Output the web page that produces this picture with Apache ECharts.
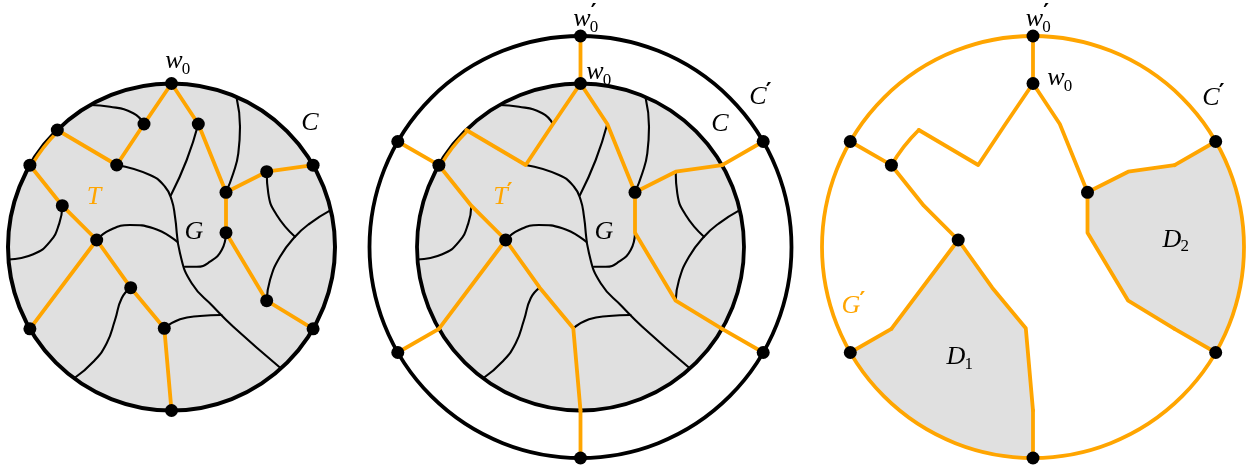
<!DOCTYPE html>
<html><head><meta charset="utf-8">
<script src="https://cdn.jsdelivr.net/npm/echarts@6/dist/echarts.min.js"></script>
<style>html,body{margin:0;padding:0;background:#fff}#chart{width:1254px;height:466px}</style>
</head><body><div id="chart"></div>
<script>
// ================= DATA (diagram units, origin = centre of disk, y downwards) =================
const innerRadius = 163.5;   // circle C
const outerRadius = 211;     // circle C'

// vertices of the spanning tree T (inside / on C)
const nodeIds = ['w0','a','b','c','d','e','f','g','h','i','j','k','l','m','n','o','p','q'];
const nodeX   = [0,-27.5,26.8,-114.2,-141.6,-54.8,54.5,95.2,141.6,-109.2,-74.8,54.5,-40.8,95.2,-141.6,-7.2,141.6,0];
const nodeY   = [-163.5,-123,-123,-117,-81.8,-82,-54.7,-75.3,-81.8,-41.3,-7,-14.3,40.7,53.7,81.8,81.3,81.8,163.5];

// vertices on the outer circle C'
const outerIds = ['W0','U1','U2','U3','U4','U5'];
const outerX   = [0,-182.7,182.7,-182.7,182.7,0];
const outerY   = [-211,-105.5,-105.5,105.5,105.5,211];

// tree T : straight paths, plus an arc of C from d to c
const treeT = [['w0','a','e','c'],['w0','b','f','g','h'],['f','k','m','p'],['d','i','j','l','o','q'],['j','n']];
const treeTArc = ['d','c'];
// extra edges of T' reaching C'
const treeExtra = [['W0','w0'],['h','U2'],['p','U4'],['U1','d'],['q','U5'],['n','U3']];

// dots drawn in the later panels
const dotsLater = ['W0','U1','U2','U3','U4','U5','w0','d','f','j'];

// faces D1, D2 of G' (tree path + arc of C')
const faceD1Path = ['U3','n','j','l','o','q','U5'];
const faceD1Arc  = ['U5','U3'];
const faceD2Path = ['U4','p','m','k','f','g','h','U2'];
const faceD2Arc  = ['U2','U4'];

// black curves of the graph G
const curveG1  = [[-81.5,-142],[-61.5,-140.3],[-38.2,-133.7],[-27.5,-123]];
const curveG2  = [[-54.8,-82],[-21.5,-72],[-6.5,-60.3],[0.2,-47],[3.5,-30.3],[8.5,6.3],[20.2,36.3],[41.8,59.7],[61.8,79.7],[109,121]];
const curveG3  = [[-0.5,-52],[15.2,-87],[26.8,-123]];
const curveG4  = [[54.5,-54.7],[61.8,-73.7],[66.8,-93.7],[68.5,-120.3],[65.2,-148.7]];
const curveG5  = [[95.2,-75.3],[96.8,-53.7],[105.2,-32],[123.5,-10.3]];
const curveG6  = [[159.2,-36.9],[138.5,-23.7],[123.5,-10.3],[108.5,9.7],[98.5,33],[95.2,53.7]];
const curveG7  = [[-109.2,-41.3],[-112.2,-23.7],[-121.5,-5.3],[-138.2,7.3],[-163,12.5]];
const curveG8  = [[-74.8,-7],[-61.5,-17],[-41.5,-22],[-18.2,-18.7],[6,-5]];
const curveG9  = [[54.5,-14.3],[50.2,3],[38.5,14.7],[25.2,19.7],[13.5,19.7]];
const curveG10 = [[-40.8,40.7],[-49.8,51.3],[-56.5,73],[-64.8,96.3],[-78.2,114.7],[-97,131]];
const curveG11 = [[-7.2,81.3],[8.5,72.3],[28.5,69],[50,68]];
const curvesG = [curveG1,curveG2,curveG3,curveG4,curveG5,curveG6,curveG7,curveG8,curveG9,curveG10,curveG11];

// text labels
const labelPanel  = [0,0,0,0, 1,1,1,1,1,1, 2,2,2,2,2,2];
const labelMain   = ['w','C','T','G', 'w','w','C','C','T','G', 'w','w','C','G','D','D'];
const labelSub    = ['0','','','', '0','0','','','','', '0','0','','','1','2'];
const labelPrime  = [0,0,0,0, 1,0,1,0,1,0, 1,0,1,1,0,0];
const labelOrange = [0,0,1,0, 0,0,0,0,1,0, 0,0,0,1,0,0];
const labelX      = [2.5,138.5,-77.5,22.5, 1.5,14.5,177.5,139.5,-80,23.5, 1.5,23,178,-182,-77,139];
const labelY      = [-186,-123.7,-49.5,-14.5, -228,-175,-149.5,-123,-49.5,-14.5, -228,-169,-149,59,110.5,-7];

// ================= LAYOUT / STYLE =================
const panelCentres = [[171.5,247],[580.5,247],[1033,247]];
const ORANGE = '#FFA500', GREY = '#e0e0e0', BLACK = '#000';
const FAM = '"Liberation Serif","DejaVu Serif",serif';

function pt(id){
  let i = nodeIds.indexOf(id);
  if (i >= 0) return [nodeX[i], nodeY[i]];
  i = outerIds.indexOf(id);
  return [outerX[i], outerY[i]];
}
function ang(id){ const p = pt(id); return Math.atan2(p[1], p[0]); }
function arcSamples(r, a0, a1, n){
  const out = [];
  for (let s = 0; s <= n; s++){ const t = a0 + (a1 - a0) * s / n; out.push([r*Math.cos(t), r*Math.sin(t)]); }
  return out;
}

const grids = [], xAxes = [], yAxes = [];
panelCentres.forEach(([cx, cy]) => {
  const L = Math.max(0, cx - 240), R = Math.min(1254, cx + 240);
  grids.push({left: L, width: R - L, top: 0, height: 466, containLabel: false});
  xAxes.push({type:'value', gridIndex: grids.length-1, min: L - cx, max: R - cx, show: false});
  yAxes.push({type:'value', gridIndex: grids.length-1, min: -cy, max: 466 - cy, inverse: true, show: false});
});

const series = [];
function circleSeries(panel, r, fill, stroke, width, z){
  series.push({type:'custom', xAxisIndex:panel, yAxisIndex:panel, z, silent:true, data:[[0,0]],
    renderItem(params, api){
      const c = api.coord([0,0]); const rr = api.size([r,0])[0];
      return {type:'circle', shape:{cx:c[0], cy:c[1], r:rr},
        style:{fill: fill || 'none', stroke: stroke || 'none', lineWidth: width || 0}};
    }});
}
function arcSeries(panel, r, ids, stroke, width, z){
  series.push({type:'custom', xAxisIndex:panel, yAxisIndex:panel, z, silent:true, data:[[0,0]],
    renderItem(params, api){
      const c = api.coord([0,0]); const rr = api.size([r,0])[0];
      return {type:'arc', shape:{cx:c[0], cy:c[1], r:rr, startAngle:ang(ids[0]), endAngle:ang(ids[1]), clockwise:true},
        style:{fill:'none', stroke, lineWidth: width, lineCap:'round'}};
    }});
}
function polySeries(panel, pts, fill, z){
  series.push({type:'custom', xAxisIndex:panel, yAxisIndex:panel, z, silent:true, data:[[0,0]],
    renderItem(params, api){
      return {type:'polygon', shape:{points: pts.map(p => api.coord(p))}, style:{fill, stroke:'none'}};
    }});
}
function lineSeries(panel, pts, color, width, smooth, z){
  series.push({type:'line', xAxisIndex:panel, yAxisIndex:panel, z, silent:true, data: pts,
    symbol:'none', smooth: smooth, clip:false,
    lineStyle:{color, width, cap:'round', join:'round', opacity:1}});
}
function dotSeries(panel, ids, z){
  series.push({type:'scatter', xAxisIndex:panel, yAxisIndex:panel, z, silent:true,
    data: ids.map(pt), symbol:'circle', symbolSize: 13, itemStyle:{color: BLACK, opacity: 1}});
}

const measureCtx = document.createElement('canvas').getContext('2d');
function textWidth(t, font){ measureCtx.font = font; return measureCtx.measureText(t).width; }

function labelSeries(panel, z){
  const idx = [];
  labelPanel.forEach((p, i) => { if (p === panel) idx.push(i); });
  series.push({type:'custom', xAxisIndex:panel, yAxisIndex:panel, z, silent:true,
    data: idx.map(i => [labelX[i], labelY[i], i]),
    renderItem(params, api){
      const i = api.value(2);
      const p = api.coord([api.value(0), api.value(1)]);
      const fill = labelOrange[i] ? ORANGE : BLACK;
      const mainFont = 'italic 26px ' + FAM;
      const subFont = '17px ' + FAM;
      const w = textWidth(labelMain[i], mainFont);
      const isW = labelMain[i] === 'w';
      const ch = [{type:'text', x:p[0], y:p[1], style:{text: labelMain[i], font: mainFont, fill, align:'center', verticalAlign:'middle'}}];
      if (labelSub[i]) ch.push({type:'text', x:p[0] + w/2 - 1, y:p[1] + (isW ? 9 : 7),
        style:{text: labelSub[i], font: subFont, fill, align:'left', verticalAlign:'middle'}});
      if (labelPrime[i]) ch.push({type:'text', x:p[0] + w/2 + (isW ? 0 : -1), y:p[1] - (isW ? 6 : 5),
        style:{text: '\u2032', font: 'bold 22px "DejaVu Sans",sans-serif', fill, align:'left', verticalAlign:'middle'}});
      return {type:'group', children: ch};
    }});
}

// ---------- panel 1 : G, C, T ----------
circleSeries(0, innerRadius, GREY, null, 0, 1);
curvesG.forEach(c => lineSeries(0, c, BLACK, 2.1, 0.5, 2));
circleSeries(0, innerRadius, null, BLACK, 4, 3);
treeT.forEach(path => lineSeries(0, path.map(pt), ORANGE, 3.8, false, 4));
arcSeries(0, innerRadius - 1.5, treeTArc, ORANGE, 3.4, 4);
dotSeries(0, nodeIds, 5);
labelSeries(0, 6);

// ---------- panel 2 : G, C, C', T' ----------
circleSeries(1, innerRadius, GREY, null, 0, 1);
curvesG.forEach(c => lineSeries(1, c, BLACK, 2.1, 0.5, 2));
circleSeries(1, innerRadius, null, BLACK, 3.8, 3);
circleSeries(1, outerRadius, null, BLACK, 3.8, 3);
treeT.concat(treeExtra).forEach(path => lineSeries(1, path.map(pt), ORANGE, 3.8, false, 4));
arcSeries(1, innerRadius - 1.5, treeTArc, ORANGE, 3.4, 4);
dotSeries(1, dotsLater, 5);
labelSeries(1, 6);

// ---------- panel 3 : G' with faces D1, D2 ----------
polySeries(2, faceD1Path.map(pt).concat(arcSamples(outerRadius, ang(faceD1Arc[0]), ang(faceD1Arc[1]), 40)), GREY, 1);
polySeries(2, faceD2Path.map(pt).concat(arcSamples(outerRadius, ang(faceD2Arc[0]), ang(faceD2Arc[1]), 40)), GREY, 1);
circleSeries(2, outerRadius, null, ORANGE, 3.8, 3);
treeT.concat(treeExtra).forEach(path => lineSeries(2, path.map(pt), ORANGE, 3.8, false, 4));
arcSeries(2, innerRadius, treeTArc, ORANGE, 3.8, 4);
dotSeries(2, dotsLater, 5);
labelSeries(2, 6);

const chart = echarts.init(document.getElementById('chart'), null, {renderer:'canvas'});
chart.setOption({animation:false, backgroundColor:'#fff', grid: grids, xAxis: xAxes, yAxis: yAxes, series});
</script></body></html>
